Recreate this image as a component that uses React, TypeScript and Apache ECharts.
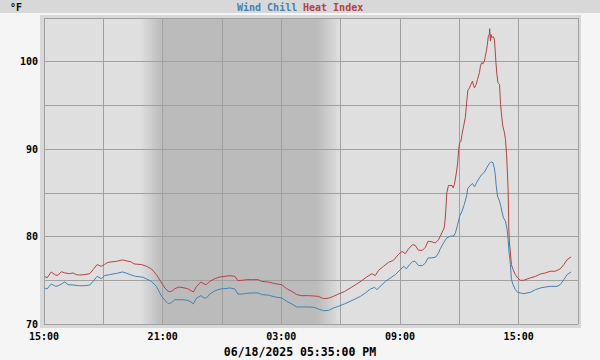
import React, { useEffect, useRef } from 'react';
import * as echarts from 'echarts';

// minutes after 15:00 on 06/17/2025
const heatTimes = [2,9,22,36,43,53,63,78,88,98,
108,124,139,149,161,174,184,194,220,238,
252,265,273,296,311,326,341,357,367,377,
387,397,409,422,436,446,453,463,476,486,
493,503,519,534,549,564,579,588,602,615,
630,650,660,681,701,721,736,752,767,782,
802,820,832,848,863,878,893,911,934,949,
964,979,995,1005,1015,1030,1045,1060,1075,1086,
1096,1106,1118,1126,1136,1148,1157,1165,1177,1187,
1197,1207,1214,1217,1220,1222,1227,1238,1241,1245,
1251,1255,1258,1261,1265,1268,1273,1278,1281,1283,
1286,1291,1295,1300,1303,1306,1311,1315,1321,1324,
1328,1332,1336,1339,1342,1345,1348,1351,1352,1354,
1356,1359,1362,1366,1369,1371,1374,1377,1382,1385,
1389,1392,1397,1400,1403,1405,1408,1410,1412,1415,
1418,1423,1430,1437,1445,1455,1475,1491,1506,1521,
1536,1551,1566,1577,1587,1599];

const heatValues = [75.45,75.27,75.95,75.57,75.6,75.99,75.84,75.76,75.84,75.65,
75.6,75.65,75.76,76.22,76.79,76.6,76.82,77.05,77.17,77.33,
77.21,77.1,76.87,76.8,76.6,76.3,75.65,74.69,74.1,73.73,
73.73,74.04,74.23,74.15,74.04,73.81,73.66,74.3,74.81,74.58,
74.5,74.88,75.19,75.38,75.45,75.53,75.45,74.96,75.0,75.07,
75.07,75.07,74.88,74.8,74.61,74.5,74.04,73.73,73.36,73.24,
73.24,73.2,73.16,72.9,72.95,73.16,73.43,73.7,74.23,74.58,
74.96,75.38,75.76,75.53,76.14,76.6,77.05,77.28,77.94,78.31,
78.05,78.59,79.08,79.0,78.43,78.43,78.77,79.46,79.4,79.27,
79.65,80.42,80.99,81.94,83.66,85.0,85.84,85.84,85.57,85.95,
87.29,88.44,89.96,90.72,90.91,91.68,92.63,93.59,94.73,95.68,
96.75,97.02,97.4,97.78,97.29,97.02,97.4,97.97,98.74,99.5,
99.89,99.77,100.07,100.64,101.21,101.98,102.93,103.13,103.78,102.36,
103.13,102.75,102.87,102.63,101.21,99.89,98.55,97.6,97.4,95.11,
93.59,92.63,91.87,91.1,89.58,88.05,85.38,80.99,79.27,78.13,
76.79,76.22,75.65,75.27,75.0,75.0,75.27,75.45,75.72,75.84,
76.03,76.03,76.3,76.79,77.36,77.67];

const chillTimes = [2,9,22,36,43,53,63,73,88,108,
124,139,149,161,174,184,199,220,238,252,
265,278,300,311,326,341,357,367,377,387,
397,409,422,436,446,453,463,476,486,493,
503,519,534,549,564,579,588,602,615,630,
650,660,681,701,721,736,752,767,782,802,
820,832,848,863,878,893,911,929,944,960,
975,990,1003,1010,1020,1036,1051,1066,1081,1092,
1099,1109,1119,1126,1136,1148,1157,1165,1177,1189,
1197,1202,1212,1222,1233,1243,1248,1255,1261,1268,
1275,1283,1285,1293,1300,1306,1313,1321,1328,1336,
1343,1351,1356,1362,1366,1369,1372,1376,1382,1386,
1390,1394,1400,1405,1408,1411,1415,1418,1423,1430,
1437,1445,1455,1475,1491,1506,1521,1536,1556,1566,
1577,1587,1599];

const chillValues = [74.12,74.0,74.58,74.3,74.38,74.58,74.81,74.5,74.46,74.38,
74.38,74.46,74.88,75.45,75.19,75.53,75.65,75.79,75.95,75.79,
75.6,75.45,75.35,75.15,74.88,74.3,73.16,72.7,72.32,72.45,
72.78,72.78,72.78,72.7,72.52,72.29,72.98,73.24,72.98,72.98,
73.43,73.81,74.0,74.05,74.12,74.0,73.43,73.43,73.5,73.55,
73.55,73.36,73.3,73.09,72.98,72.59,72.29,71.95,71.95,71.95,
71.9,71.72,71.52,71.55,71.83,72.02,72.29,72.6,72.86,73.16,
73.55,74.0,74.19,73.93,74.3,74.88,75.27,75.65,76.22,76.6,
76.3,76.79,77.17,77.17,76.68,76.68,76.98,77.56,77.56,77.67,
78.13,78.59,79.27,79.85,80.05,80.05,80.42,81.37,82.32,82.89,
83.66,84.8,85.46,85.84,86.07,85.69,86.21,86.72,87.1,87.36,
87.86,88.36,88.55,88.44,87.86,87.1,85.76,84.61,84.04,83.47,
82.71,82.14,81.75,80.8,79.65,78.13,76.79,75.07,74.5,73.93,
73.62,73.55,73.47,73.62,73.93,74.12,74.23,74.3,74.3,74.5,
75.07,75.65,75.95];

// dusk start, full night, night end, dawn complete (minutes after 15:00)
const twilight = [292, 357, 828, 898];

const xTickHours = ['15:00', '18:00', '21:00', '00:00', '03:00', '06:00', '09:00', '12:00', '15:00', '18:00'];
const yLabels = [70, 80, 90, 100];

const FONT = 'DejaVu Sans Mono';
const DAY = '#dfdfdf';
const NIGHT = '#bbbbbb';
const BAND = '#d8d8d8';
const GRIDC = '#a0a0a0';
const BLUE = '#4282b4';
const RED = '#b44242';

export default function App() {
  const ref = useRef<HTMLDivElement>(null);
  useEffect(() => {
    const chart = echarts.init(ref.current!, null, { renderer: 'svg' });
    const heat = heatTimes.map((t, i) => [t, heatValues[i]]);
    const chill = chillTimes.map((t, i) => [t, chillValues[i]]);
    const bands = [
      [twilight[0], twilight[1], 0],
      [twilight[1], twilight[2], 1],
      [twilight[2], twilight[3], 2],
    ];
    const option: any = {
      animation: false,
      backgroundColor: '#f5f5f5',
      grid: {
        left: 44, top: 18, right: 22, bottom: 36,
        show: true, backgroundColor: DAY, borderWidth: 0, z: 0,
      },
      xAxis: {
        type: 'value', min: 0, max: 1620, interval: 180, z: 2,
        axisLine: { show: false }, axisTick: { show: false },
        splitLine: { show: true, lineStyle: { color: GRIDC, width: 1 } },
        axisLabel: {
          margin: 7, color: '#000', fontFamily: FONT, fontWeight: 'bold', fontSize: 10,
          formatter: (v: number) => (v % 360 === 0 ? xTickHours[Math.round(v / 180)] : ''),
        },
      },
      yAxis: {
        type: 'value', min: 70, max: 105, interval: 5, z: 2,
        axisLine: { show: false }, axisTick: { show: false },
        splitLine: { show: true, lineStyle: { color: GRIDC, width: 1 } },
        axisLabel: {
          margin: 6, color: '#000', fontFamily: FONT, fontWeight: 'bold', fontSize: 10,
          formatter: (v: number) => (yLabels.indexOf(v) >= 0 ? String(v) : ''),
        },
      },
      graphic: [
        { type: 'rect', shape: { x: 0, y: 0, width: 600, height: 13 }, style: { fill: BAND }, silent: true },
        { type: 'rect', shape: { x: 40, y: 15, width: 541, height: 3 }, style: { fill: BAND }, silent: true },
        { type: 'rect', shape: { x: 40, y: 324, width: 541, height: 4 }, style: { fill: BAND }, silent: true },
        { type: 'rect', shape: { x: 40, y: 15, width: 4, height: 313 }, style: { fill: BAND }, silent: true },
        { type: 'rect', shape: { x: 578, y: 15, width: 3, height: 313 }, style: { fill: BAND }, silent: true },
        { type: 'text', x: 10, y: 7, style: { text: '°F', fill: '#000', font: `bold 10px "${FONT}"`, verticalAlign: 'middle' } },
        { type: 'text', x: 237, y: 7, style: { text: 'Wind Chill', fill: BLUE, font: `bold 10px "${FONT}"`, verticalAlign: 'middle' } },
        { type: 'text', x: 303, y: 7, style: { text: 'Heat Index', fill: RED, font: `bold 10px "${FONT}"`, verticalAlign: 'middle' } },
        { type: 'text', x: 300, y: 352, style: { text: '06/18/2025 05:35:00 PM', fill: '#000', font: `bold 11.5px "${FONT}"`, align: 'center', verticalAlign: 'middle' } },
      ],
      series: [
        {
          type: 'custom', z: 1, silent: true, data: bands,
          encode: { x: [0, 1] },
          renderItem: (params: any, api: any) => {
            const s = api.coord([api.value(0), 70]);
            const e = api.coord([api.value(1), 70]);
            const cs = params.coordSys;
            const kind = api.value(2);
            let fill: any = NIGHT;
            if (kind === 0) fill = new echarts.graphic.LinearGradient(0, 0, 1, 0, [{ offset: 0, color: DAY }, { offset: 1, color: NIGHT }]);
            if (kind === 2) fill = new echarts.graphic.LinearGradient(0, 0, 1, 0, [{ offset: 0, color: NIGHT }, { offset: 1, color: DAY }]);
            return { type: 'rect', shape: { x: s[0], y: cs.y, width: e[0] - s[0], height: cs.height }, style: { fill } };
          },
        },
        {
          name: 'Wind Chill', type: 'line', z: 3, data: chill, showSymbol: false, symbol: 'none',
          lineStyle: { color: BLUE, width: 1 }, itemStyle: { color: BLUE },
        },
        {
          name: 'Heat Index', type: 'line', z: 3, data: heat, showSymbol: false, symbol: 'none',
          lineStyle: { color: RED, width: 1 }, itemStyle: { color: RED },
        },
      ],
    };
    chart.setOption(option);
    return () => chart.dispose();
  }, []);
  return <div ref={ref} style={{ position: 'fixed', left: 0, top: 0, width: 600, height: 360 }} />;
}
